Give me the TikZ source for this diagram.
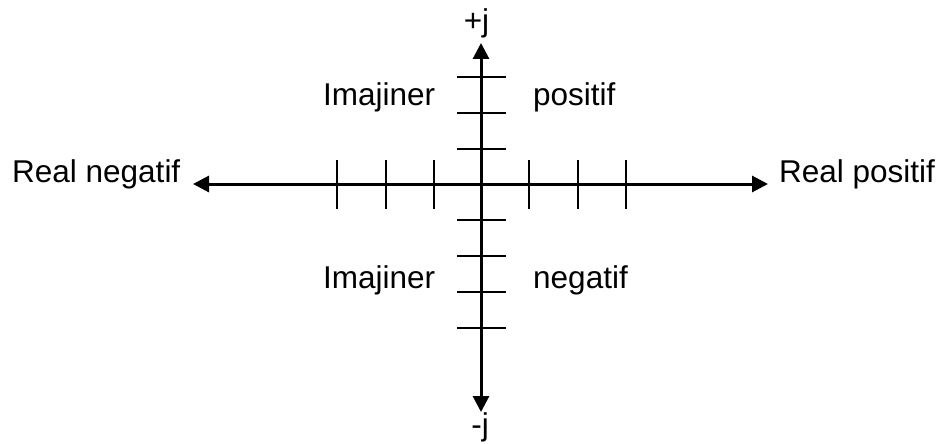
\documentclass[tikz,border=0pt]{standalone}
\usepackage{fontspec}
\setmainfont{Liberation Sans}
\usetikzlibrary{arrows.meta}
\tikzset{
  lbl/.style={inner sep=0pt, font=\fontsize{31.5}{38}\selectfont},
  axisline/.style={line width=3pt, {Triangle[length=16pt,width=16pt]}-{Triangle[length=16pt,width=16pt]}},
  axisup/.style={line width=3pt, -{Triangle[length=16pt,width=16pt]}},
  tick/.style={line width=1.6pt}
}
\begin{document}
\begin{tikzpicture}[x=1pt,y=-1pt]
\useasboundingbox (0,0) rectangle (939,444);
% coordinates
\coordinate (O) at (481,184);
\coordinate (L) at (193,184);
\coordinate (R) at (768,184);
\coordinate (T) at (481,43);
\coordinate (B) at (481,412);
% ticks
\foreach \x in {337,386,434,529,578,626}
  \draw[tick] (\x,160) -- (\x,209);
\foreach \y in {77,113,149,220,256,292,328}
  \draw[tick] (457,\y) -- (506,\y);
% axes
\draw[axisline] (L) -- (R);
\draw[axisup] (O) -- (T);
\draw[axisup] (O) -- (B);
% labels
\node[lbl, anchor=base] (pj) at (476.5,31.5) {+j};
\node[lbl, anchor=base] (mj) at (480,435) {-j};
\node[lbl, anchor=base west] (rn) at (12,182) {Real negatif};
\node[lbl, anchor=base west] (rp) at (779,182) {Real positif};
\node[lbl, anchor=base west] (ip) at (323,105) {Imajiner};
\node[lbl, anchor=base west] (pp) at (533,105) {positif};
\node[lbl, anchor=base west] (in) at (323,288) {Imajiner};
\node[lbl, anchor=base west] (nn) at (533,288) {negatif};
\end{tikzpicture}
\end{document}
